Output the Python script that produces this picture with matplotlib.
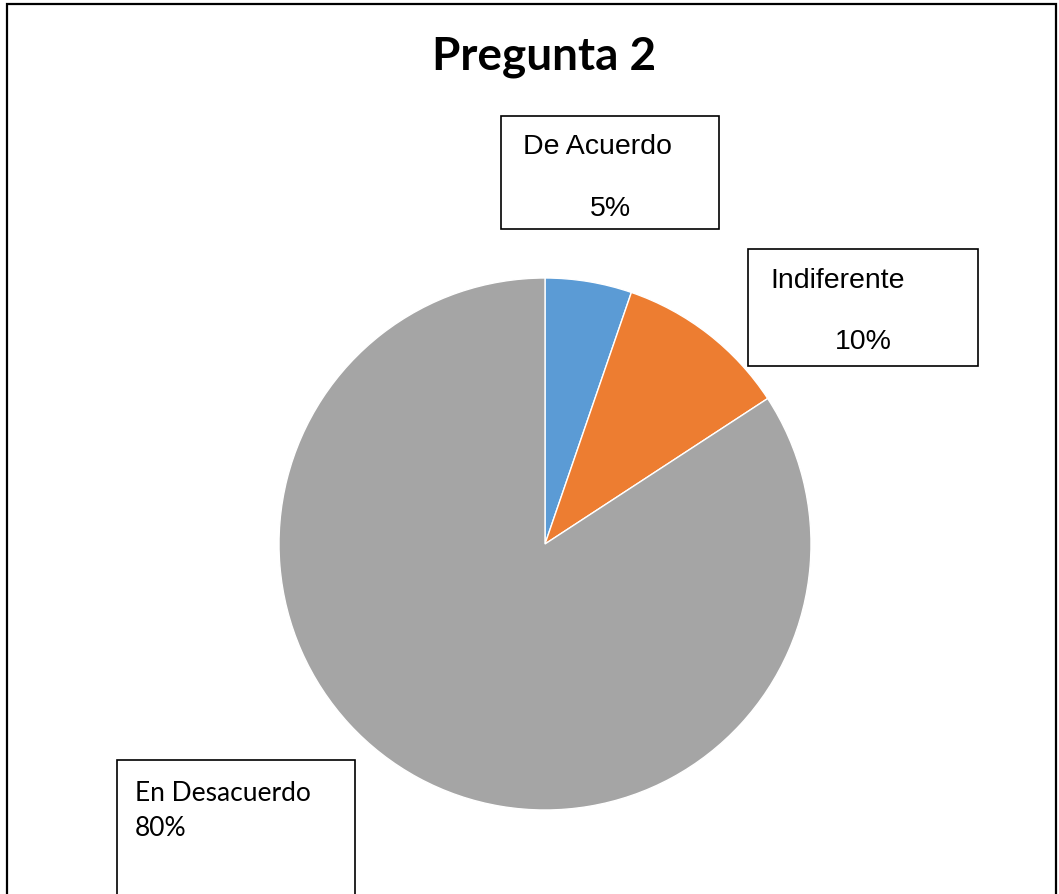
import matplotlib.pyplot as plt
from matplotlib.patches import Rectangle

categorias = ["De Acuerdo", "Indiferente", "En Desacuerdo"]
respuestas = [1, 2, 16]
etiquetas_pct = ["5%", "10%", "80%"]
colores = ["#5B9BD5", "#ED7D31", "#A5A5A5"]

W, H = 1059, 895
fig = plt.figure(figsize=(W / 100, H / 100), dpi=100)


def fx(px):
    return px / W


def fy(py):
    return 1 - py / H


# marco exterior
fig.patches.append(Rectangle((fx(7), fy(920)), fx(1056) - fx(7), fy(5) - fy(920),
                             transform=fig.transFigure, fill=False,
                             edgecolor="black", linewidth=1.6))

# pastel
ax = fig.add_axes([fx(545 - 266), fy(545 + 266), 532 / W, 532 / H])
ax.pie(respuestas, colors=colores, startangle=90, counterclock=False,
       wedgeprops=dict(edgecolor="white", linewidth=1))
ax.set_xlim(-1, 1)
ax.set_ylim(-1, 1)
ax.set_aspect("equal")
ax.axis("off")

fig.text(fx(544), fy(57), "Pregunta 2", ha="center", va="center",
         fontsize=33, fontweight="bold", family="Lato")

# cajas de etiquetas (x0, y0, x1, y1) en pixeles
cajas = [(501, 117, 719, 230), (748, 250, 978, 367), (117, 761, 355, 930)]
pos_nombre = [(523, 147, "left"), (770, 281, "left"), (135, 794, "left")]
pos_pct = [(610, 209, "center"), (863, 342, "center"), (135, 829, "left")]
fuentes = [("Liberation Sans", 20.5), ("Liberation Sans", 20.5), ("Lato", 19)]

for i in range(len(categorias)):
    x0, y0, x1, y1 = cajas[i]
    fig.patches.append(Rectangle((fx(x0), fy(y1)), fx(x1) - fx(x0), fy(y0) - fy(y1),
                                 transform=fig.transFigure, facecolor="white",
                                 edgecolor="black", linewidth=1.2))
    fam, fs = fuentes[i]
    nx, ny, nha = pos_nombre[i]
    fig.text(fx(nx), fy(ny), categorias[i], ha=nha, va="center", fontsize=fs, family=fam)
    px_, py_, pha = pos_pct[i]
    fig.text(fx(px_), fy(py_), etiquetas_pct[i], ha=pha, va="center", fontsize=fs, family=fam)

fig.savefig("out.png", dpi=100)
